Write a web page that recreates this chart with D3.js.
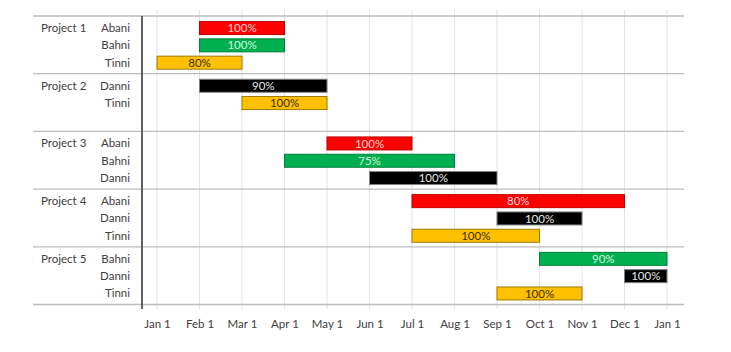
<!doctype HTML>
<html>
<head>
<style>
    body { margin: 0; background: #fff; }
    text { font-family: Lato, "Open Sans", sans-serif; }
</style>
<script src="https://d3js.org/d3.v7.min.js"></script>
</head>
<body>
<div id="gantt"></div>
<script>
    // data (month index: 0 = Jan 1, 12 = next Jan 1)
    var projects = ["Project 1", "Project 2", "Project 3", "Project 4", "Project 5"];
    var monthLabels = ["Jan 1", "Feb 1", "Mar 1", "Apr 1", "May 1", "Jun 1", "Jul 1",
                       "Aug 1", "Sep 1", "Oct 1", "Nov 1", "Dec 1", "Jan 1"];
    var tasks = [
        {project: "Project 1", person: "Abani", start: 1, end: 3,  done: 100},
        {project: "Project 1", person: "Bahni", start: 1, end: 3,  done: 100},
        {project: "Project 1", person: "Tinni", start: 0, end: 2,  done: 80},
        {project: "Project 2", person: "Danni", start: 1, end: 4,  done: 90},
        {project: "Project 2", person: "Tinni", start: 2, end: 4,  done: 100},
        {project: "Project 3", person: "Abani", start: 4, end: 6,  done: 100},
        {project: "Project 3", person: "Bahni", start: 3, end: 7,  done: 75},
        {project: "Project 3", person: "Danni", start: 5, end: 8,  done: 100},
        {project: "Project 4", person: "Abani", start: 6, end: 11, done: 80},
        {project: "Project 4", person: "Danni", start: 8, end: 10, done: 100},
        {project: "Project 4", person: "Tinni", start: 6, end: 9,  done: 100},
        {project: "Project 5", person: "Bahni", start: 9, end: 12, done: 90},
        {project: "Project 5", person: "Danni", start: 11, end: 12, done: 100},
        {project: "Project 5", person: "Tinni", start: 8, end: 10, done: 100}
    ];

    // per person styling
    var fillColor = {Abani: "#ff0000", Bahni: "#00b050", Tinni: "#ffc000", Danni: "#000000"};
    var strokeColor = {Abani: "#c00000", Bahni: "#00803a", Tinni: "#a07800", Danni: "#7f7f7f"};
    var textColor = {Abani: "#ffd6d6", Bahni: "#d2f5dc", Tinni: "#3a2e00", Danni: "#e6e6e6"};

    var canvasWidth = 731;
    var canvasHeight = 352;

    var svg = d3.select("#gantt").append("svg")
        .attr("width", canvasWidth)
        .attr("height", canvasHeight);

    var x = d3.scaleLinear().domain([0, 12]).range([157, 667]);

    var yProject = d3.scaleBand().domain(projects).range([16, 304.5]).paddingInner(0);

    var ySlot = d3.scalePoint().domain([0, 1, 2])
        .range([0, yProject.bandwidth()]).padding(0.667);

    // slot of each task inside its project
    tasks.forEach(function(d) {
        var same = tasks.filter(function(t) { return t.project == d.project; });
        d.slot = same.indexOf(d);
    });

    function rowY(d) { return yProject(d.project) + ySlot(d.slot) + 0.5; }

    var barHeight = 13;

    // vertical gridlines
    svg.append("g")
        .selectAll("line")
        .data(d3.range(13))
        .join("line")
        .attr("x1", function(d) { return x(d); })
        .attr("x2", function(d) { return x(d); })
        .attr("y1", 10)
        .attr("y2", 309)
        .attr("stroke", "#e3e3e3")
        .attr("stroke-width", 1);

    // horizontal project separators
    var seps = projects.map(function(p) { return yProject(p); });
    seps.push(yProject.range()[1]);
    svg.append("g")
        .selectAll("line")
        .data(seps)
        .join("line")
        .attr("x1", 33)
        .attr("x2", 684)
        .attr("y1", function(d) { return d; })
        .attr("y2", function(d) { return d; })
        .attr("stroke", "#bdbdbd")
        .attr("stroke-width", 1.3);

    // vertical axis line
    svg.append("line")
        .attr("x1", 142).attr("x2", 142)
        .attr("y1", 16).attr("y2", 309)
        .attr("stroke", "#505050")
        .attr("stroke-width", 1.8);

    // x axis labels
    var xAxis = d3.axisBottom(x)
        .tickValues(d3.range(13))
        .tickFormat(function(i) { return monthLabels[i]; })
        .tickSize(0)
        .tickPadding(0);

    var axisG = svg.append("g")
        .attr("transform", "translate(0, 320)")
        .call(xAxis);
    axisG.select(".domain").remove();
    axisG.selectAll("text")
        .attr("font-family", "Lato, 'Open Sans', sans-serif")
        .attr("font-size", "11.5px")
        .attr("fill", "#404040");

    // project labels
    svg.append("g")
        .selectAll("text")
        .data(projects)
        .join("text")
        .attr("x", 41)
        .attr("y", function(d) { return yProject(d) + ySlot(0) + 0.5; })
        .attr("dy", "0.35em")
        .attr("font-size", "11.5px")
        .attr("fill", "#404040")
        .text(function(d) { return d; });

    // person labels
    svg.append("g")
        .selectAll("text")
        .data(tasks)
        .join("text")
        .attr("x", 130)
        .attr("y", rowY)
        .attr("dy", "0.35em")
        .attr("text-anchor", "end")
        .attr("font-size", "11.5px")
        .attr("fill", "#404040")
        .text(function(d) { return d.person; });

    // bars
    svg.append("g")
        .selectAll("rect")
        .data(tasks)
        .join("rect")
        .attr("x", function(d) { return x(d.start); })
        .attr("y", function(d) { return rowY(d) - barHeight / 2; })
        .attr("width", function(d) { return x(d.end) - x(d.start); })
        .attr("height", barHeight)
        .attr("fill", function(d) { return fillColor[d.person]; })
        .attr("stroke", function(d) { return strokeColor[d.person]; })
        .attr("stroke-width", 1);

    // percent labels
    svg.append("g")
        .selectAll("text")
        .data(tasks)
        .join("text")
        .attr("x", function(d) { return (x(d.start) + x(d.end)) / 2; })
        .attr("y", rowY)
        .attr("dy", "0.36em")
        .attr("text-anchor", "middle")
        .attr("font-size", "11.5px")
        .attr("fill", function(d) { return textColor[d.person]; })
        .text(function(d) { return d.done + "%"; })
</script>
</body>
</html>
